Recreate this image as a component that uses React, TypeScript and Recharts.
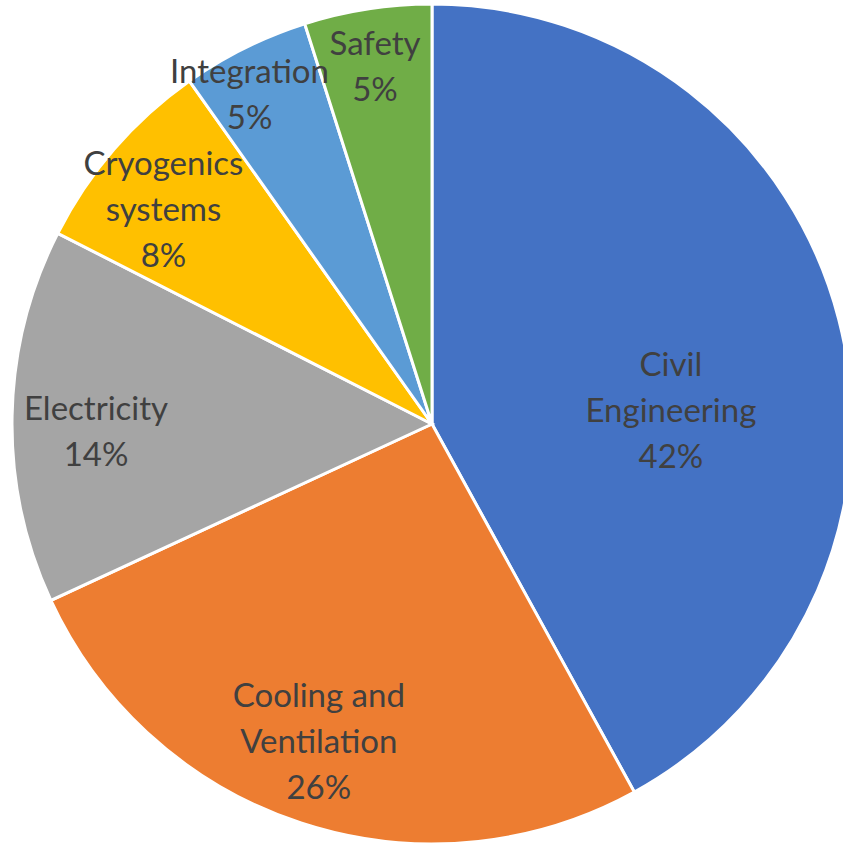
import { Cell, Pie, PieChart } from "recharts";

const categories = [
  "Civil Engineering",
  "Cooling and Ventilation",
  "Electricity",
  "Cryogenics systems",
  "Integration",
  "Safety",
];
const shares = [42, 26.1, 14.4, 7.7, 4.9, 4.9];
const labelLines = [
  ["Civil", "Engineering"],
  ["Cooling and", "Ventilation"],
  ["Electricity"],
  ["Cryogenics", "systems"],
  ["Integration"],
  ["Safety"],
];
const colors = ["#4472C4", "#ED7D31", "#A5A5A5", "#FFC000", "#5B9BD5", "#70AD47"];

// label placement (fraction of radius, angle nudge in degrees) – Excel "best fit" look
const labelRadius = [0.57, 0.8, 0.8, 0.82, 0.9, 0.865];
const labelNudge = [-10.8, -1.5, 2.1, 2.1, 2.4, 0.2];

const chartData = categories.map((name, i) => ({ name, value: shares[i] }));

const RAD = Math.PI / 180;
const LINE_H = 46;

const renderLabel = (props: any) => {
  const { cx, cy, midAngle, outerRadius, index, percent } = props;
  const a = (midAngle + labelNudge[index]) * RAD;
  const r = outerRadius * labelRadius[index];
  const x = cx + r * Math.cos(a);
  const y = cy - r * Math.sin(a);
  const lines = [...labelLines[index], `${Math.round(percent * 100)}%`];
  const top = y - ((lines.length - 1) * LINE_H) / 2;
  return (
    <text
      x={x}
      y={top}
      textAnchor="middle"
      dominantBaseline="central"
      fill="#404040"
      fontSize={33}
      fontFamily="Lato, sans-serif"
    >
      {lines.map((t, j) => (
        <tspan key={j} x={x} y={top + j * LINE_H}>
          {t}
        </tspan>
      ))}
    </text>
  );
};

export default function App() {
  return (
    <div style={{ position: "absolute", left: 0, top: 0, width: 843, height: 843, overflow: "hidden", background: "#fff" }}>
      <PieChart width={843} height={843} margin={{ top: 0, right: 0, bottom: 0, left: 0 }}>
        <Pie
          data={chartData}
          dataKey="value"
          nameKey="name"
          cx={432}
          cy={424}
          outerRadius={420}
          startAngle={90}
          endAngle={-270}
          stroke="#FFFFFF"
          strokeWidth={3}
          label={renderLabel}
          labelLine={false}
          isAnimationActive={false}
        >
          {chartData.map((d, i) => (
            <Cell key={d.name} fill={colors[i]} />
          ))}
        </Pie>
      </PieChart>
    </div>
  );
}
